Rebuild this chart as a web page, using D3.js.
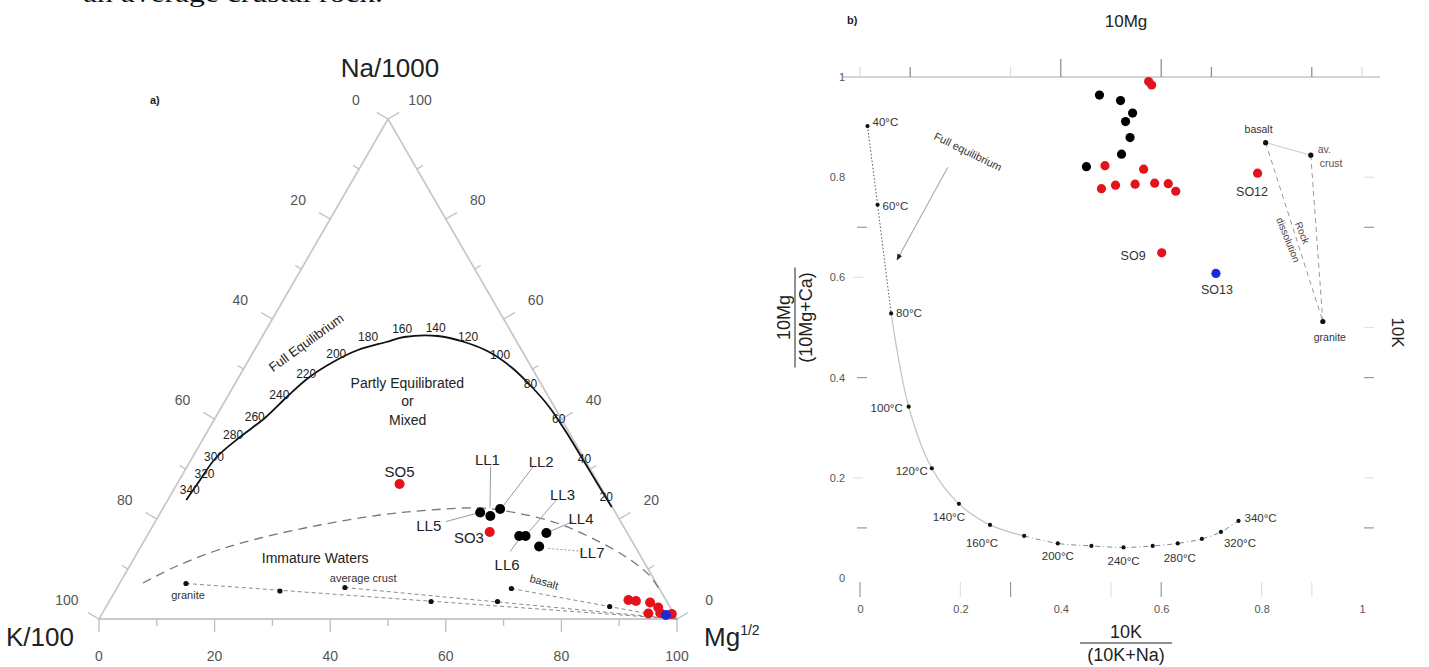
<!DOCTYPE html>
<html><head><meta charset="utf-8">
<script src="https://cdn.jsdelivr.net/npm/d3@7"></script>
<style>body{margin:0;background:#fff}svg{display:block}text{font-family:"Liberation Sans",Arial,sans-serif}text.serif{font-family:"Liberation Serif","Times New Roman",serif}</style>
</head><body><svg id="c" width="1429" height="667"></svg>
<script>
// ================= DATA =================
// Panel a) ternary: each triple = [Na/1000 %, K/100 %, Mg^1/2 %]
const ternTicks = [0,10,20,30,40,50,60,70,80,90,100];
const ternTickLabels = [0,20,40,60,80,100];
const blackSamplesA = [[21.3,23.4,55.3],[20.6,22.0,57.4],[22.0,19.6,58.4],[16.6,19.0,64.4],[16.6,17.9,65.5],[17.2,14.0,68.8],[14.5,16.6,68.9]];
const redSamplesA = [[27.0,34.5,38.5],[17.4,23.7,58.9],[3.8,6.5,89.7],[3.6,5.3,91.1],[3.3,3.0,93.7],[2.3,2.1,95.6],[1.1,4.4,94.5],[1.2,2.3,96.5],[1.0,0.4,98.6]];
const blueSamplesA = [[0.8,1.5,97.7]];
const fullEqCurve = [[23.8,73.0,3.2],[27.0,69.5,3.5],[32.2,63.7,4.1],[36.4,57.4,6.2],[40.2,51.2,8.6],[44.4,45.3,10.3],[48.2,39.7,12.1],[51.4,33.8,14.8],[53.8,28.3,17.9],[55.4,22.6,22.0],[56.4,19.0,24.6],[56.6,13.1,30.3],[55.4,9.1,35.5],[53.4,5.8,40.8],[50.4,3.5,46.1],[46.4,1.9,51.7],[42.4,0.9,56.7],[37.8,0.5,61.7],[35.4,0.4,64.2],[30.4,0.3,69.3],[25.8,0.2,74.0],[22.4,0.1,77.5]];
const fullEqTemps = [340,320,300,280,260,240,220,200,180,160,140,120,100,80,60,40,20];
const fullEqTempPos = [[25.8,71.4,2.8],[29.1,67.2,3.7],[32.4,63.9,3.7],[36.8,58.4,4.8],[40.5,52.8,6.7],[44.8,46.4,8.8],[49.1,39.6,11.3],[53.1,32.4,14.5],[56.5,25.2,18.3],[58.1,18.5,23.4],[58.3,12.6,29.1],[56.5,7.9,35.6],[52.8,4.2,43.0],[47.1,1.8,51.1],[40.1,0.4,59.5],[32.0,0.0,68.0],[24.5,0.0,75.5]];
const immatureCurve = [[7.2,88.8,4.0],[10.4,81.7,7.9],[13.6,73.1,13.3],[16.2,64.0,19.8],[18.8,52.4,28.8],[20.8,41.0,38.2],[21.8,31.8,46.4],[22.2,23.0,54.8],[21.2,17.1,61.7],[19.2,11.2,69.6],[16.4,6.9,76.7],[13.2,3.3,83.5],[10.4,1.2,88.4],[8.4,0.3,91.3],[5.6,0.1,94.3]];
const rockNamesA = ["granite","average crust","basalt"];
const rockStartA = [[7.1,81.4,11.5],[6.3,54.3,39.4],[6.1,25.6,68.3]];
const rockLabelPosA = [[4.8,82.2,13.0],[8.2,50.2,41.6],[7.4,19.3,73.3]];
const rockMidDotsA = [[5.6,65.9,28.5],[3.5,40.8,55.7],[3.5,29.3,67.2],[2.5,10.4,87.1]];
const mgVertex = [0,0,100];
const sampleLabelsA = ["LL1","LL2","LL3","LL4","LL5","LL6","LL7","SO5","SO3"];
const sampleLabelPosA = [[31.8,16.9,51.3],[31.4,7.8,60.8],[24.8,7.4,67.8],[20.0,6.6,73.4],[18.7,33.6,47.7],[10.8,24.0,65.2],[13.2,8.1,78.7],[29.4,33.3,37.3],[16.2,27.9,55.9]];
const leaderFromA = [[30.5,17.0,52.5],[30.5,9.6,59.9],[23.8,9.0,67.2],[19.5,8.2,72.3],[19.5,30.2,50.3],[13.5,22.1,64.4],[14.1,15.2,70.7]];
const leaderToA   = [[22.3,21.2,56.5],[22.5,18.9,58.6],[17.5,16.8,65.7],[17.5,13.3,69.2],[21.1,24.2,54.7],[16.0,19.3,64.7],[13.5,9.2,77.3]];
const regionTextA = ["Partly Equilibrated","or","Mixed","Immature Waters","Full Equilibrium"];
const regionPosA = [[47.1,23.1,29.8],[43.5,24.9,31.6],[39.8,26.7,33.5],[12.2,56.5,31.3],[55.3,36.5,8.2]];

// Panel b) 10K/(10K+Na) vs 10Mg/(10Mg+Ca)
const xTickLabelsB = [0,0.2,0.4,0.6,0.8,1];
const yTickLabelsB = [0,0.2,0.4,0.6,0.8,1];
const bottomTicksDark = [0,0.3,0.6], bottomTicksFaint = [0.2,0.5,0.8,0.9];
const topTicksTall = [0.4,0.6], topTicksDark = [0.1,0.7,0.9], topTicksFaint = [0,0.3,1];
const leftTicksDark = [0.7,0.4,0.1], leftTicksFaint = [0.6,0.2];
const rightTicksDark = [0.7,0.4,0.1], rightTicksFaint = [0.8,0.5,0.2];
const tempC = [40,60,80,100,120,140,160,180,200,220,240,260,280,300,320,340];
const tempX = [0.015,0.035,0.062,0.097,0.143,0.197,0.259,0.327,0.394,0.461,0.525,0.583,0.633,0.681,0.719,0.754];
const tempY = [0.902,0.745,0.528,0.342,0.219,0.148,0.106,0.084,0.069,0.064,0.061,0.064,0.069,0.078,0.092,0.114];
const tempLabelled = [1,1,1,1,1,1,1,0,1,0,1,0,1,0,1,1];
const blackX = [0.477,0.519,0.543,0.529,0.538,0.521,0.451];
const blackY = [0.964,0.953,0.928,0.911,0.879,0.846,0.821];
const redX = [0.575,0.581,0.488,0.565,0.481,0.509,0.548,0.587,0.614,0.629,0.792,0.601];
const redY = [0.991,0.984,0.823,0.816,0.777,0.784,0.786,0.788,0.787,0.772,0.808,0.649];
const blueX = [0.709], blueY = [0.608];
const rockNamesB = ["basalt","av. crust","granite"];
const rockX = [0.808,0.898,0.922];
const rockY = [0.869,0.844,0.512];
const sampleLabelsB = ["SO12","SO9","SO13"];
const sampleLabelXB = [0.781,0.544,0.711];
const sampleLabelYB = [0.771,0.643,0.576];

// ================= DRAW =================
const svg = d3.select("#c");

svg.append("text").attr("class","serif").attr("x",83).attr("y",2)
  .attr("font-size",25).attr("textLength",300).attr("lengthAdjust","spacingAndGlyphs").attr("fill","#111").text("an average crustal rock.");

// ---------- Panel a ----------
const tY = d3.scaleLinear().domain([0,100]).range([619,119]);
const tX = d3.scaleLinear().domain([0,100]).range([99,677]);
const P = d => [tX(d[2] + d[0]/2), tY(d[0])];
const gA = svg.append("g");

const verts = [[100,0,0],[0,100,0],[0,0,100]];
gA.append("path").attr("d", "M" + verts.map(v=>P(v).join(",")).join("L") + "Z")
  .attr("fill","none").attr("stroke","#c9c9c9").attr("stroke-width",1.8);

const sides = [
  {pt: v => [100-v, v, 0], n: [-0.866,-0.5]},
  {pt: v => [v, 0, 100-v], n: [0.866,-0.5]},
  {pt: v => [0, 100-v, v], n: [0,1]}
];
sides.forEach(s => {
  ternTicks.forEach(v => {
    const p = P(s.pt(v)); const L = (v % 20 === 0) ? 13 : 7;
    gA.append("line").attr("x1",p[0]).attr("y1",p[1]).attr("x2",p[0]+s.n[0]*L).attr("y2",p[1]+s.n[1]*L)
      .attr("stroke","#bdbdbd").attr("stroke-width",1.3);
  });
  ternTickLabels.forEach(v => {
    const p = P(s.pt(v));
    gA.append("text").attr("x",p[0]+s.n[0]*37).attr("y",p[1]+s.n[1]*37).attr("dy","0.35em")
      .attr("text-anchor","middle").attr("font-size",14).attr("fill","#555").text(v);
  });
});

gA.append("text").attr("x",P([100,0,0])[0]+2).attr("y",77).attr("text-anchor","middle").attr("font-size",26).attr("fill","#222").text("Na/1000");
gA.append("text").attr("x",6).attr("y",646).attr("font-size",26).attr("fill","#222").text("K/100");
const mgT = gA.append("text").attr("x",704).attr("y",646).attr("font-size",26).attr("fill","#222");
mgT.append("tspan").text("Mg");
mgT.append("tspan").attr("font-size",14).attr("dy",-11).text("1/2");
gA.append("text").attr("x",150).attr("y",104).attr("font-size",11).attr("font-weight","bold").attr("fill","#222").text("a)");

const lineT = d3.line().x(d=>P(d)[0]).y(d=>P(d)[1]);
gA.append("path").attr("d", lineT.curve(d3.curveCatmullRom)(immatureCurve))
  .attr("fill","none").attr("stroke","#777").attr("stroke-width",1.3).attr("stroke-dasharray","9,6");
rockStartA.forEach(r => {
  gA.append("path").attr("d", d3.line().x(d=>P(d)[0]).y(d=>P(d)[1])([r, mgVertex]))
    .attr("fill","none").attr("stroke","#8a8a8a").attr("stroke-width",1).attr("stroke-dasharray","4,3");
});
rockStartA.concat(rockMidDotsA).forEach(d => {
  gA.append("circle").attr("cx",P(d)[0]).attr("cy",P(d)[1]).attr("r",2.6).attr("fill","#111");
});
rockNamesA.forEach((n,i) => {
  const p = P(rockLabelPosA[i]);
  gA.append("text").attr("x",p[0]).attr("y",p[1]).attr("dy","0.35em").attr("text-anchor","middle")
    .attr("font-size",11).attr("fill","#333")
    .attr("transform", i===2 ? `rotate(16,${p[0]},${p[1]})` : null).text(n);
});
gA.append("path").attr("d", d3.line().x(d=>P(d)[0]).y(d=>P(d)[1]).curve(d3.curveCatmullRom)(fullEqCurve))
  .attr("fill","none").attr("stroke","#111").attr("stroke-width",1.8);
fullEqTemps.forEach((t,i) => {
  const p = P(fullEqTempPos[i]);
  gA.append("text").attr("x",p[0]).attr("y",p[1]).attr("dy","0.35em").attr("text-anchor","middle")
    .attr("font-size",12).attr("fill","#222").text(t);
});
regionTextA.forEach((t,i) => {
  const p = P(regionPosA[i]);
  gA.append("text").attr("x",p[0]).attr("y",p[1]).attr("dy","0.35em").attr("text-anchor","middle")
    .attr("font-size", i===4 ? 13 : 14).attr("fill","#222")
    .attr("transform", i===4 ? `rotate(-36,${p[0]},${p[1]})` : null).text(t);
});
leaderFromA.forEach((f,i) => {
  const a = P(f), b = P(leaderToA[i]);
  gA.append("line").attr("x1",a[0]).attr("y1",a[1]).attr("x2",b[0]).attr("y2",b[1])
    .attr("stroke","#9a9a9a").attr("stroke-width",1).attr("stroke-dasharray", i===6 ? "2,2" : null);
});
const dotA = (arr, col) => arr.forEach(d => gA.append("circle").attr("cx",P(d)[0]).attr("cy",P(d)[1]).attr("r",5).attr("fill",col));
dotA(blackSamplesA, "#000");
dotA(redSamplesA, "#e3121b");
dotA(blueSamplesA, "#1a2bd8");
sampleLabelsA.forEach((n,i) => {
  const p = P(sampleLabelPosA[i]);
  gA.append("text").attr("x",p[0]).attr("y",p[1]).attr("dy","0.35em").attr("text-anchor","middle")
    .attr("font-size",15).attr("fill","#222").text(n);
});

// ---------- Panel b ----------
const xB = d3.scaleLinear().domain([0,1]).range([860,1362]);
const yB = d3.scaleLinear().domain([0,1]).range([578,77]);
const gB = svg.append("g");

gB.append("text").attr("x",847).attr("y",24).attr("font-size",11).attr("font-weight","bold").attr("fill","#222").text("b)");
gB.append("text").attr("x",xB(0.53)).attr("y",27).attr("text-anchor","middle").attr("font-size",17).attr("fill","#222").text("10Mg");
gB.append("text").attr("transform",`translate(1392,${yB(0.49)}) rotate(90)`).attr("text-anchor","middle")
  .attr("font-size",17).attr("fill","#222").text("10K");

gB.append("line").attr("x1",xB(0)-17).attr("x2",xB(1)+18).attr("y1",yB(1)).attr("y2",yB(1)).attr("stroke","#aaa").attr("stroke-width",1.2);
const vt = (vals, y0, len, col) => vals.forEach(v => gB.append("line").attr("x1",xB(v)).attr("x2",xB(v)).attr("y1",y0).attr("y2",y0+len).attr("stroke",col).attr("stroke-width",1.2));
vt(topTicksTall, yB(1), -18, "#888");
vt(topTicksDark, yB(1), -10, "#888");
vt(topTicksFaint, yB(1), -10, "#ddd");
vt(bottomTicksDark, yB(0)+4, 15, "#999");
vt(bottomTicksFaint, yB(0)+4, 15, "#e2e2e2");
const ht = (vals, x0, len, col) => vals.forEach(v => gB.append("line").attr("x1",x0).attr("x2",x0+len).attr("y1",yB(v)).attr("y2",yB(v)).attr("stroke",col).attr("stroke-width",1.2));
ht(leftTicksDark, xB(0)-3, 10, "#999");
ht(leftTicksFaint, xB(0)-7, 10, "#e2e2e2");
ht(rightTicksDark, xB(1)+2, 10, "#999");
ht(rightTicksFaint, xB(1)+2, 10, "#e2e2e2");

const axX = gB.append("g").attr("transform",`translate(0,${yB(0)+24})`)
  .call(d3.axisBottom(xB).tickValues(xTickLabelsB).tickSize(0).tickFormat(d=>String(d)));
const axY = gB.append("g").attr("transform",`translate(${xB(0)-12},0)`)
  .call(d3.axisLeft(yB).tickValues(yTickLabelsB).tickSize(0).tickFormat(d=>String(d)));
[axX, axY].forEach(a => { a.select(".domain").remove(); a.selectAll("text").attr("font-size",11).attr("fill","#555"); });

const fx = gB.append("g").attr("transform",`translate(${xB(0.53)},643)`);
fx.append("text").attr("y",-5).attr("text-anchor","middle").attr("font-size",18).attr("fill","#222").text("10K");
fx.append("line").attr("x1",-46).attr("x2",46).attr("stroke","#222").attr("stroke-width",1);
fx.append("text").attr("y",18).attr("text-anchor","middle").attr("font-size",18).attr("fill","#222").text("(10K+Na)");
const fy = gB.append("g").attr("transform",`translate(795,${yB(0.52)}) rotate(-90)`);
fy.append("text").attr("y",-5).attr("text-anchor","middle").attr("font-size",18).attr("fill","#222").text("10Mg");
fy.append("line").attr("x1",-50).attr("x2",50).attr("stroke","#222").attr("stroke-width",1);
fy.append("text").attr("y",17).attr("text-anchor","middle").attr("font-size",18).attr("fill","#222").text("(10Mg+Ca)");

const tpts = tempC.map((t,i)=>[xB(tempX[i]), yB(tempY[i])]);
const lineB = d3.line().curve(d3.curveCatmullRom);
gB.append("path").attr("d", lineB(tpts.slice(0,3))).attr("fill","none").attr("stroke","#555").attr("stroke-width",1).attr("stroke-dasharray","1.5,2");
gB.append("path").attr("d", lineB(tpts.slice(2,8))).attr("fill","none").attr("stroke","#c4c4c4").attr("stroke-width",1.3);
gB.append("path").attr("d", lineB(tpts.slice(7))).attr("fill","none").attr("stroke","#888").attr("stroke-width",1).attr("stroke-dasharray","5,3,1,3");
tpts.forEach(p => gB.append("circle").attr("cx",p[0]).attr("cy",p[1]).attr("r",2.1).attr("fill","#111"));
const tOff = [[5,-4,"start"],[5,1,"start"],[5,0,"start"],[-6,1,"end"],[-4,3,"end"],[-10,13,"middle"],[-8,18,"middle"],null,[0,13,"middle"],null,[0,14,"middle"],null,[2,15,"middle"],null,[19,11,"middle"],[6,-3,"start"]];
tempC.forEach((t,i) => {
  if (!tempLabelled[i]) return;
  const o = tOff[i];
  gB.append("text").attr("x",tpts[i][0]+o[0]).attr("y",tpts[i][1]+o[1]).attr("dy","0.35em").attr("text-anchor",o[2])
    .attr("font-size",11.5).attr("fill","#333").text(t + "°C");
});

const arrFrom = [0.175,0.820], arrTo = [0.0737,0.635];
svg.append("defs").append("marker").attr("id","ah").attr("viewBox","0 0 10 10").attr("refX",9).attr("refY",5)
  .attr("markerWidth",6).attr("markerHeight",6).attr("orient","auto")
  .append("path").attr("d","M0,1L10,5L0,9Z").attr("fill","#222");
gB.append("line").attr("x1",xB(arrFrom[0])).attr("y1",yB(arrFrom[1])).attr("x2",xB(arrTo[0])).attr("y2",yB(arrTo[1]))
  .attr("stroke","#aaa").attr("stroke-width",1.1).attr("marker-end","url(#ah)");
gB.append("text").attr("transform",`translate(${xB(0.215)},${yB(0.851)}) rotate(26)`).attr("text-anchor","middle").attr("dy","0.35em")
  .attr("font-size",11).attr("fill","#333").text("Full equilibrium");

const rp = rockX.map((x,i)=>[xB(x), yB(rockY[i])]);
gB.append("line").attr("x1",rp[0][0]).attr("y1",rp[0][1]).attr("x2",rp[1][0]).attr("y2",rp[1][1]).attr("stroke","#ccc").attr("stroke-width",1);
[0,1].forEach(i => gB.append("line").attr("x1",rp[i][0]).attr("y1",rp[i][1]).attr("x2",rp[2][0]).attr("y2",rp[2][1])
  .attr("stroke","#999").attr("stroke-width",1).attr("stroke-dasharray","5,4"));
rp.forEach(p => gB.append("circle").attr("cx",p[0]).attr("cy",p[1]).attr("r",2.6).attr("fill","#111"));
gB.append("text").attr("x",rp[0][0]-7).attr("y",rp[0][1]-10).attr("text-anchor","middle").attr("font-size",10.5).attr("fill","#333").text("basalt");
gB.append("text").attr("x",rp[1][0]+7).attr("y",rp[1][1]-2).attr("font-size",10.5).attr("fill","#555").text("av.");
gB.append("text").attr("x",rp[1][0]+9).attr("y",rp[1][1]+12).attr("font-size",10.5).attr("fill","#555").text("crust");
gB.append("text").attr("x",rp[2][0]+7).attr("y",rp[2][1]+20).attr("text-anchor","middle").attr("font-size",10.5).attr("fill","#333").text("granite");
gB.append("text").attr("transform",`translate(${xB(0.881)},${yB(0.689)}) rotate(68)`).attr("text-anchor","middle").attr("dy","0.35em").attr("font-size",10).attr("fill","#444").text("Rock");
gB.append("text").attr("transform",`translate(${xB(0.853)},${yB(0.675)}) rotate(68)`).attr("text-anchor","middle").attr("dy","0.35em").attr("font-size",10).attr("fill","#444").text("dissolution");

const dotB = (xs, ys, col) => xs.forEach((x,i)=> gB.append("circle").attr("cx",xB(x)).attr("cy",yB(ys[i])).attr("r",4.6).attr("fill",col));
dotB(blackX, blackY, "#000");
dotB(redX, redY, "#e3121b");
dotB(blueX, blueY, "#1a2bd8");
sampleLabelsB.forEach((n,i) => gB.append("text").attr("x",xB(sampleLabelXB[i])).attr("y",yB(sampleLabelYB[i])).attr("dy","0.35em")
  .attr("text-anchor","middle").attr("font-size",12.5).attr("fill","#333").text(n));
</script></body></html>
